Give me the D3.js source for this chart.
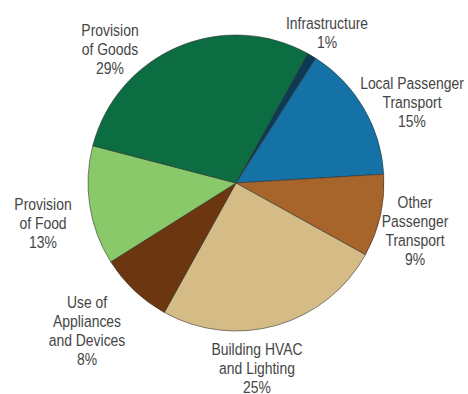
<!DOCTYPE html>
<html>
<head>
<meta charset="utf-8">
<script src="https://cdn.jsdelivr.net/npm/d3@7/dist/d3.min.js"></script>
<style>
  html, body { margin: 0; padding: 0; background: #fff; }
  svg { display: block; }
  .lbl { font-family: "Liberation Sans", Arial, sans-serif; font-size: 17px; fill: #454545; }
</style>
</head>
<body>
<svg id="chart" width="468" height="394"></svg>
<script>
// Emissions share by category, clockwise from the upper right
const categories = [
  "Infrastructure",
  "Local Passenger Transport",
  "Other Passenger Transport",
  "Building HVAC and Lighting",
  "Use of Appliances and Devices",
  "Provision of Food",
  "Provision of Goods"
];
const shares = [1, 15, 9, 25, 8, 13, 29];
const labelLines = [
  ["Infrastructure", "1%"],
  ["Local Passenger", "Transport", "15%"],
  ["Other", "Passenger", "Transport", "9%"],
  ["Building HVAC", "and Lighting", "25%"],
  ["Use of", "Appliances", "and Devices", "8%"],
  ["Provision", "of Food", "13%"],
  ["Provision", "of Goods", "29%"]
];
const colors = ["#0d3b57", "#1572a6", "#a7642b", "#d5bc87", "#6c3611", "#8ac96a", "#0b6d41"];

const svg = d3.select("#chart");
const cx = 236, cy = 183, radius = 148;
const start = 29 * Math.PI / 180;

const pie = d3.pie().sort(null).value(d => d.v)
  .startAngle(start).endAngle(start + 2 * Math.PI);
const arc = d3.arc().innerRadius(0).outerRadius(radius);
const color = d3.scaleOrdinal().domain(categories).range(colors);

const data = categories.map((c, i) => ({ c, v: shares[i], lines: labelLines[i] }));

const g = svg.append("g").attr("transform", `translate(${cx},${cy})`);
g.selectAll("path.slice")
  .data(pie(data))
  .join("path")
  .attr("class", "slice")
  .attr("d", arc)
  .attr("fill", d => color(d.data.c))
  .attr("stroke", "#2b2b2b")
  .attr("stroke-width", 0.7)
  .attr("stroke-opacity", 0.8);

// Label anchors (centre of first line) around the pie
const labelAnchor = [
  [327, 23], [412, 83], [415, 202], [257, 349],
  [87, 302], [43, 204], [110, 30]
];
const lineH = 19;
const narrow = 0.82; // condensed lettering

svg.selectAll("text.lbl")
  .data(data)
  .join("text")
  .attr("class", "lbl")
  .attr("text-anchor", "middle")
  .attr("transform", (d, i) => `translate(${labelAnchor[i][0]},${labelAnchor[i][1]}) scale(${narrow},1)`)
  .each(function (d) {
    const t = d3.select(this);
    d.lines.forEach((ln, k) => {
      t.append("tspan")
        .attr("x", 0)
        .attr("y", k * lineH)
        .attr("dominant-baseline", "central")
        .text(ln);
    });
  });
</script>
</body>
</html>
